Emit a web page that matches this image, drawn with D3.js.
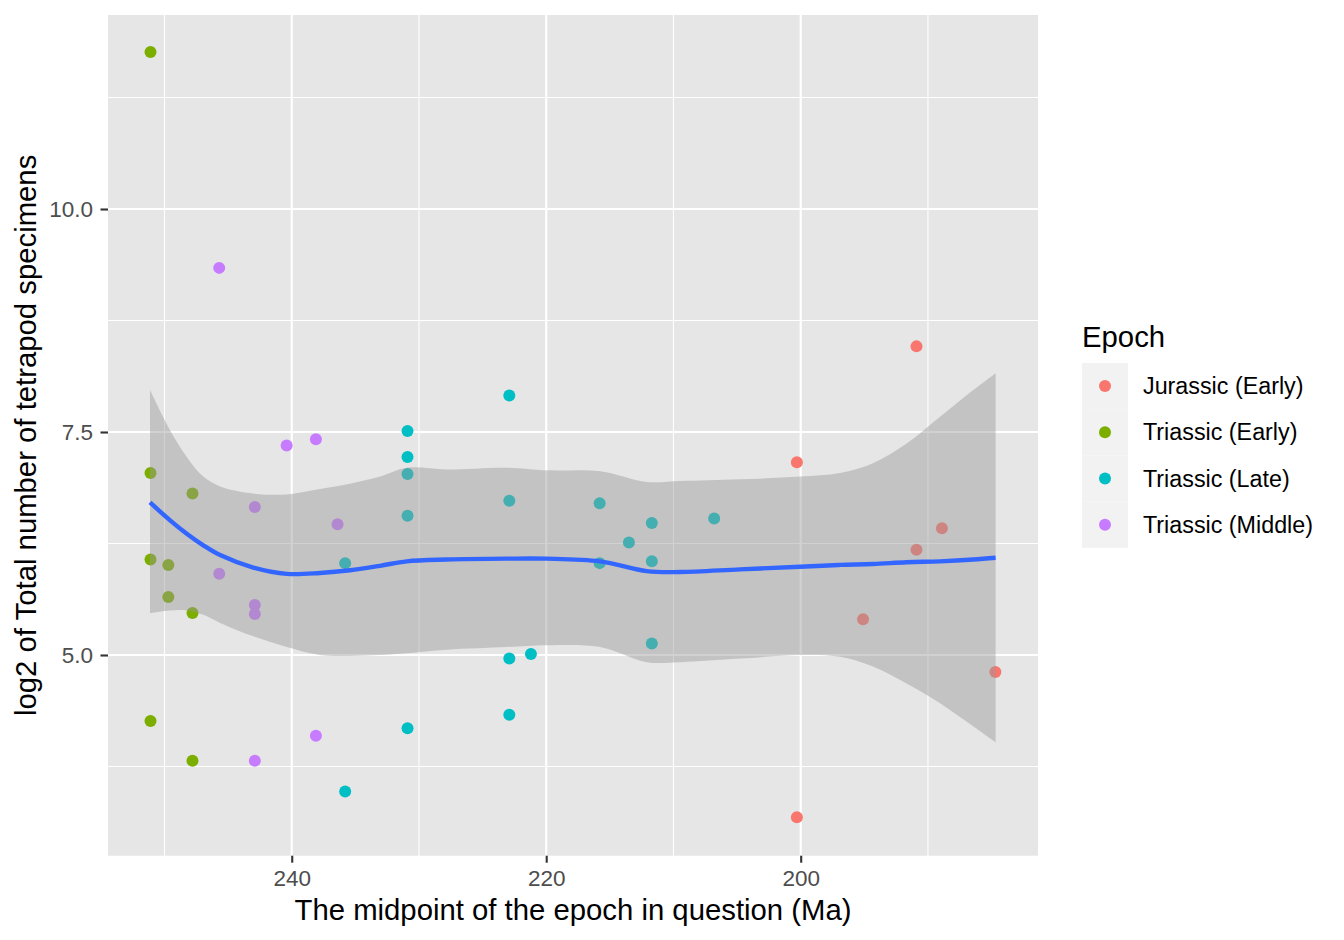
<!DOCTYPE html>
<html>
<head>
<meta charset="utf-8">
<script src="https://cdn.jsdelivr.net/npm/d3@7"></script>
<style>
  html, body { margin: 0; padding: 0; background: #ffffff; }
  svg { display: block; font-family: "Liberation Sans", Arial, Helvetica, sans-serif; }
</style>
</head>
<body>
<svg id="chart" width="1344" height="940"></svg>
<script>
// ---------------- DATA ----------------
const epochs = ["Jurassic (Early)", "Triassic (Early)", "Triassic (Late)", "Triassic (Middle)"];
const epochColors = ["#F8766D", "#7CAE00", "#00BFC4", "#C77CFF"];

const jurassicEarlyMa  = [190.9, 200.3, 188.9, 190.9, 195.1, 184.7, 200.3];
const jurassicEarlyVal = [8.46, 7.16, 6.42, 6.18, 5.40, 4.81, 3.18];

const triassicEarlyMa  = [251.1, 251.1, 247.8, 251.1, 249.7, 249.7, 247.8, 251.1, 247.8];
const triassicEarlyVal = [11.76, 7.04, 6.81, 6.07, 6.01, 5.65, 5.47, 4.26, 3.815];

const triassicLateMa  = [230.9, 230.9, 230.9, 230.9, 235.8, 230.9, 235.8, 222.9, 222.9, 222.9, 222.9,
                         215.8, 215.8, 211.7, 211.7, 211.7, 213.5, 221.2, 206.8];
const triassicLateVal = [7.51, 7.22, 7.03, 6.56, 6.03, 4.18, 3.47, 7.91, 6.73, 4.96, 4.33,
                         6.70, 6.03, 6.48, 6.05, 5.13, 6.26, 5.01, 6.53];

const triassicMiddleMa  = [245.7, 240.4, 238.1, 242.9, 236.4, 245.7, 242.9, 242.9, 238.1, 242.9];
const triassicMiddleVal = [9.34, 7.35, 7.42, 6.66, 6.465, 5.91, 5.56, 5.46, 4.095, 3.815];

// loess smooth and its confidence band
const smoothMa    = [251.14, 249.56, 248.25, 246.95, 245.63, 243.02, 240.39, 237.78, 235.42, 233.06, 230.96,
                     227.82, 223.10, 219.96, 215.77, 212.10, 209.49, 204.77, 200.05, 196.91, 194.32, 191.67,
                     189.05, 186.44, 184.68];
const smoothFit   = [6.71, 6.51, 6.36, 6.23, 6.12, 5.98, 5.91, 5.92, 5.95, 6.00, 6.05,
                     6.07, 6.08, 6.08, 6.05, 5.94, 5.93, 5.96, 5.99, 6.01, 6.02, 6.04,
                     6.05, 6.07, 6.09];
const smoothUpper = [7.97, 7.52, 7.22, 7.00, 6.89, 6.81, 6.80, 6.86, 6.92, 7.00, 7.10,
                     7.08, 7.10, 7.07, 7.06, 6.94, 6.95, 6.97, 7.00, 7.04, 7.15, 7.37,
                     7.67, 7.97, 8.16];
const smoothLower = [5.47, 5.50, 5.50, 5.45, 5.36, 5.21, 5.09, 5.00, 4.99, 5.00, 5.02,
                     5.06, 5.09, 5.11, 5.09, 4.92, 4.92, 4.96, 5.00, 4.98, 4.87, 4.68,
                     4.46, 4.20, 4.02];

const xMajorTicks = [240, 220, 200];
const xMinorTicks = [250, 230, 210, 190];
const yMajorTicks = [5.0, 7.5, 10.0];
const yMinorTicks = [3.75, 6.25, 8.75, 11.25];

const xTitle = "The midpoint of the epoch in question (Ma)";
const yTitle = "log2 of Total number of tetrapod specimens";
const legendTitle = "Epoch";

// ---------------- LAYOUT ----------------
const panel = { left: 108, right: 1038, top: 15, bottom: 855.7 };
const svg = d3.select("#chart");
const FONT = "'Liberation Sans', Arial, Helvetica, sans-serif";

const x = d3.scaleLinear().domain([254.44, 181.35]).range([panel.left, panel.right]);
const y = d3.scaleLinear().domain([2.75, 12.175]).range([panel.bottom, panel.top]);

// panel background
svg.append("rect")
  .attr("x", panel.left).attr("y", panel.top)
  .attr("width", panel.right - panel.left).attr("height", panel.bottom - panel.top)
  .attr("fill", "#E6E6E6");

// grid
const grid = svg.append("g");
grid.selectAll(".xminor").data(xMinorTicks).join("line")
  .attr("x1", d => x(d)).attr("x2", d => x(d))
  .attr("y1", panel.top).attr("y2", panel.bottom)
  .attr("stroke", "#fff").attr("stroke-width", 1.1);
grid.selectAll(".yminor").data(yMinorTicks).join("line")
  .attr("y1", d => y(d)).attr("y2", d => y(d))
  .attr("x1", panel.left).attr("x2", panel.right)
  .attr("stroke", "#fff").attr("stroke-width", 1.1);
grid.selectAll(".xmajor").data(xMajorTicks).join("line")
  .attr("x1", d => x(d)).attr("x2", d => x(d))
  .attr("y1", panel.top).attr("y2", panel.bottom)
  .attr("stroke", "#fff").attr("stroke-width", 2.2);
grid.selectAll(".ymajor").data(yMajorTicks).join("line")
  .attr("y1", d => y(d)).attr("y2", d => y(d))
  .attr("x1", panel.left).attr("x2", panel.right)
  .attr("stroke", "#fff").attr("stroke-width", 2.2);

// clip
svg.append("clipPath").attr("id", "clip").append("rect")
  .attr("x", panel.left).attr("y", panel.top)
  .attr("width", panel.right - panel.left).attr("height", panel.bottom - panel.top);
const plot = svg.append("g").attr("clip-path", "url(#clip)");

// points
const seriesMa = [jurassicEarlyMa, triassicEarlyMa, triassicLateMa, triassicMiddleMa];
const seriesVal = [jurassicEarlyVal, triassicEarlyVal, triassicLateVal, triassicMiddleVal];
const points = [];
epochs.forEach((e, i) => {
  seriesMa[i].forEach((m, j) => points.push({ ma: m, v: seriesVal[i][j], c: epochColors[i] }));
});
plot.selectAll("circle.pt").data(points).join("circle")
  .attr("class", "pt")
  .attr("cx", d => x(d.ma)).attr("cy", d => y(d.v))
  .attr("r", 6).attr("fill", d => d.c);

// smooth band + line
const smooth = smoothMa.map((m, i) => ({ ma: m, fit: smoothFit[i], lo: smoothLower[i], hi: smoothUpper[i] }));
const area = d3.area().x(d => x(d.ma)).y0(d => y(d.lo)).y1(d => y(d.hi)).curve(d3.curveCatmullRom);
plot.append("path").datum(smooth).attr("d", area)
  .attr("fill", "#999999").attr("fill-opacity", 0.45);
const line = d3.line().x(d => x(d.ma)).y(d => y(d.fit)).curve(d3.curveCatmullRom);
plot.append("path").datum(smooth).attr("d", line)
  .attr("fill", "none").attr("stroke", "#3366FF").attr("stroke-width", 4.4);

// axes
const xAxis = svg.append("g").attr("transform", `translate(0,${panel.bottom})`)
  .call(d3.axisBottom(x).tickValues(xMajorTicks).tickSize(7).tickPadding(5).tickFormat(d3.format("d")));
const yAxis = svg.append("g").attr("transform", `translate(${panel.left},0)`)
  .call(d3.axisLeft(y).tickValues(yMajorTicks).tickSize(7.5).tickPadding(7.5).tickFormat(d3.format(".1f")));
[xAxis, yAxis].forEach(a => {
  a.select(".domain").remove();
  a.selectAll(".tick line").attr("stroke", "#333333").attr("stroke-width", 2.1);
  a.selectAll(".tick text").attr("fill", "#4D4D4D").style("font-size", "22.5px")
    .style("font-family", FONT);
});
xAxis.selectAll(".tick text").attr("dy", null).attr("y", 30);

// axis titles
svg.append("text")
  .attr("x", (panel.left + panel.right) / 2).attr("y", 920)
  .attr("text-anchor", "middle").attr("fill", "#000")
  .style("font-size", "29.3px").text(xTitle);
svg.append("text")
  .attr("transform", `translate(36,${(panel.top + panel.bottom) / 2}) rotate(-90)`)
  .attr("text-anchor", "middle").attr("fill", "#000")
  .style("font-size", "29.3px").text(yTitle);

// legend
const lg = svg.append("g");
lg.append("text").attr("x", 1082).attr("y", 347).style("font-size", "29.3px").attr("fill", "#000").text(legendTitle);
const keyTop = 363, keyH = 46.2, keyW = 46, keyX = 1082;
epochs.forEach((e, i) => {
  const ky = keyTop + i * keyH;
  lg.append("rect").attr("x", keyX).attr("y", ky).attr("width", keyW).attr("height", keyH)
    .attr("fill", "#F2F2F2");
  lg.append("circle").attr("cx", keyX + keyW / 2).attr("cy", ky + keyH / 2).attr("r", 6).attr("fill", epochColors[i]);
  lg.append("text").attr("x", 1143).attr("y", ky + keyH / 2).attr("dy", "0.35em")
    .style("font-size", "23.3px").attr("fill", "#000").text(e);
});
</script>
</body>
</html>
